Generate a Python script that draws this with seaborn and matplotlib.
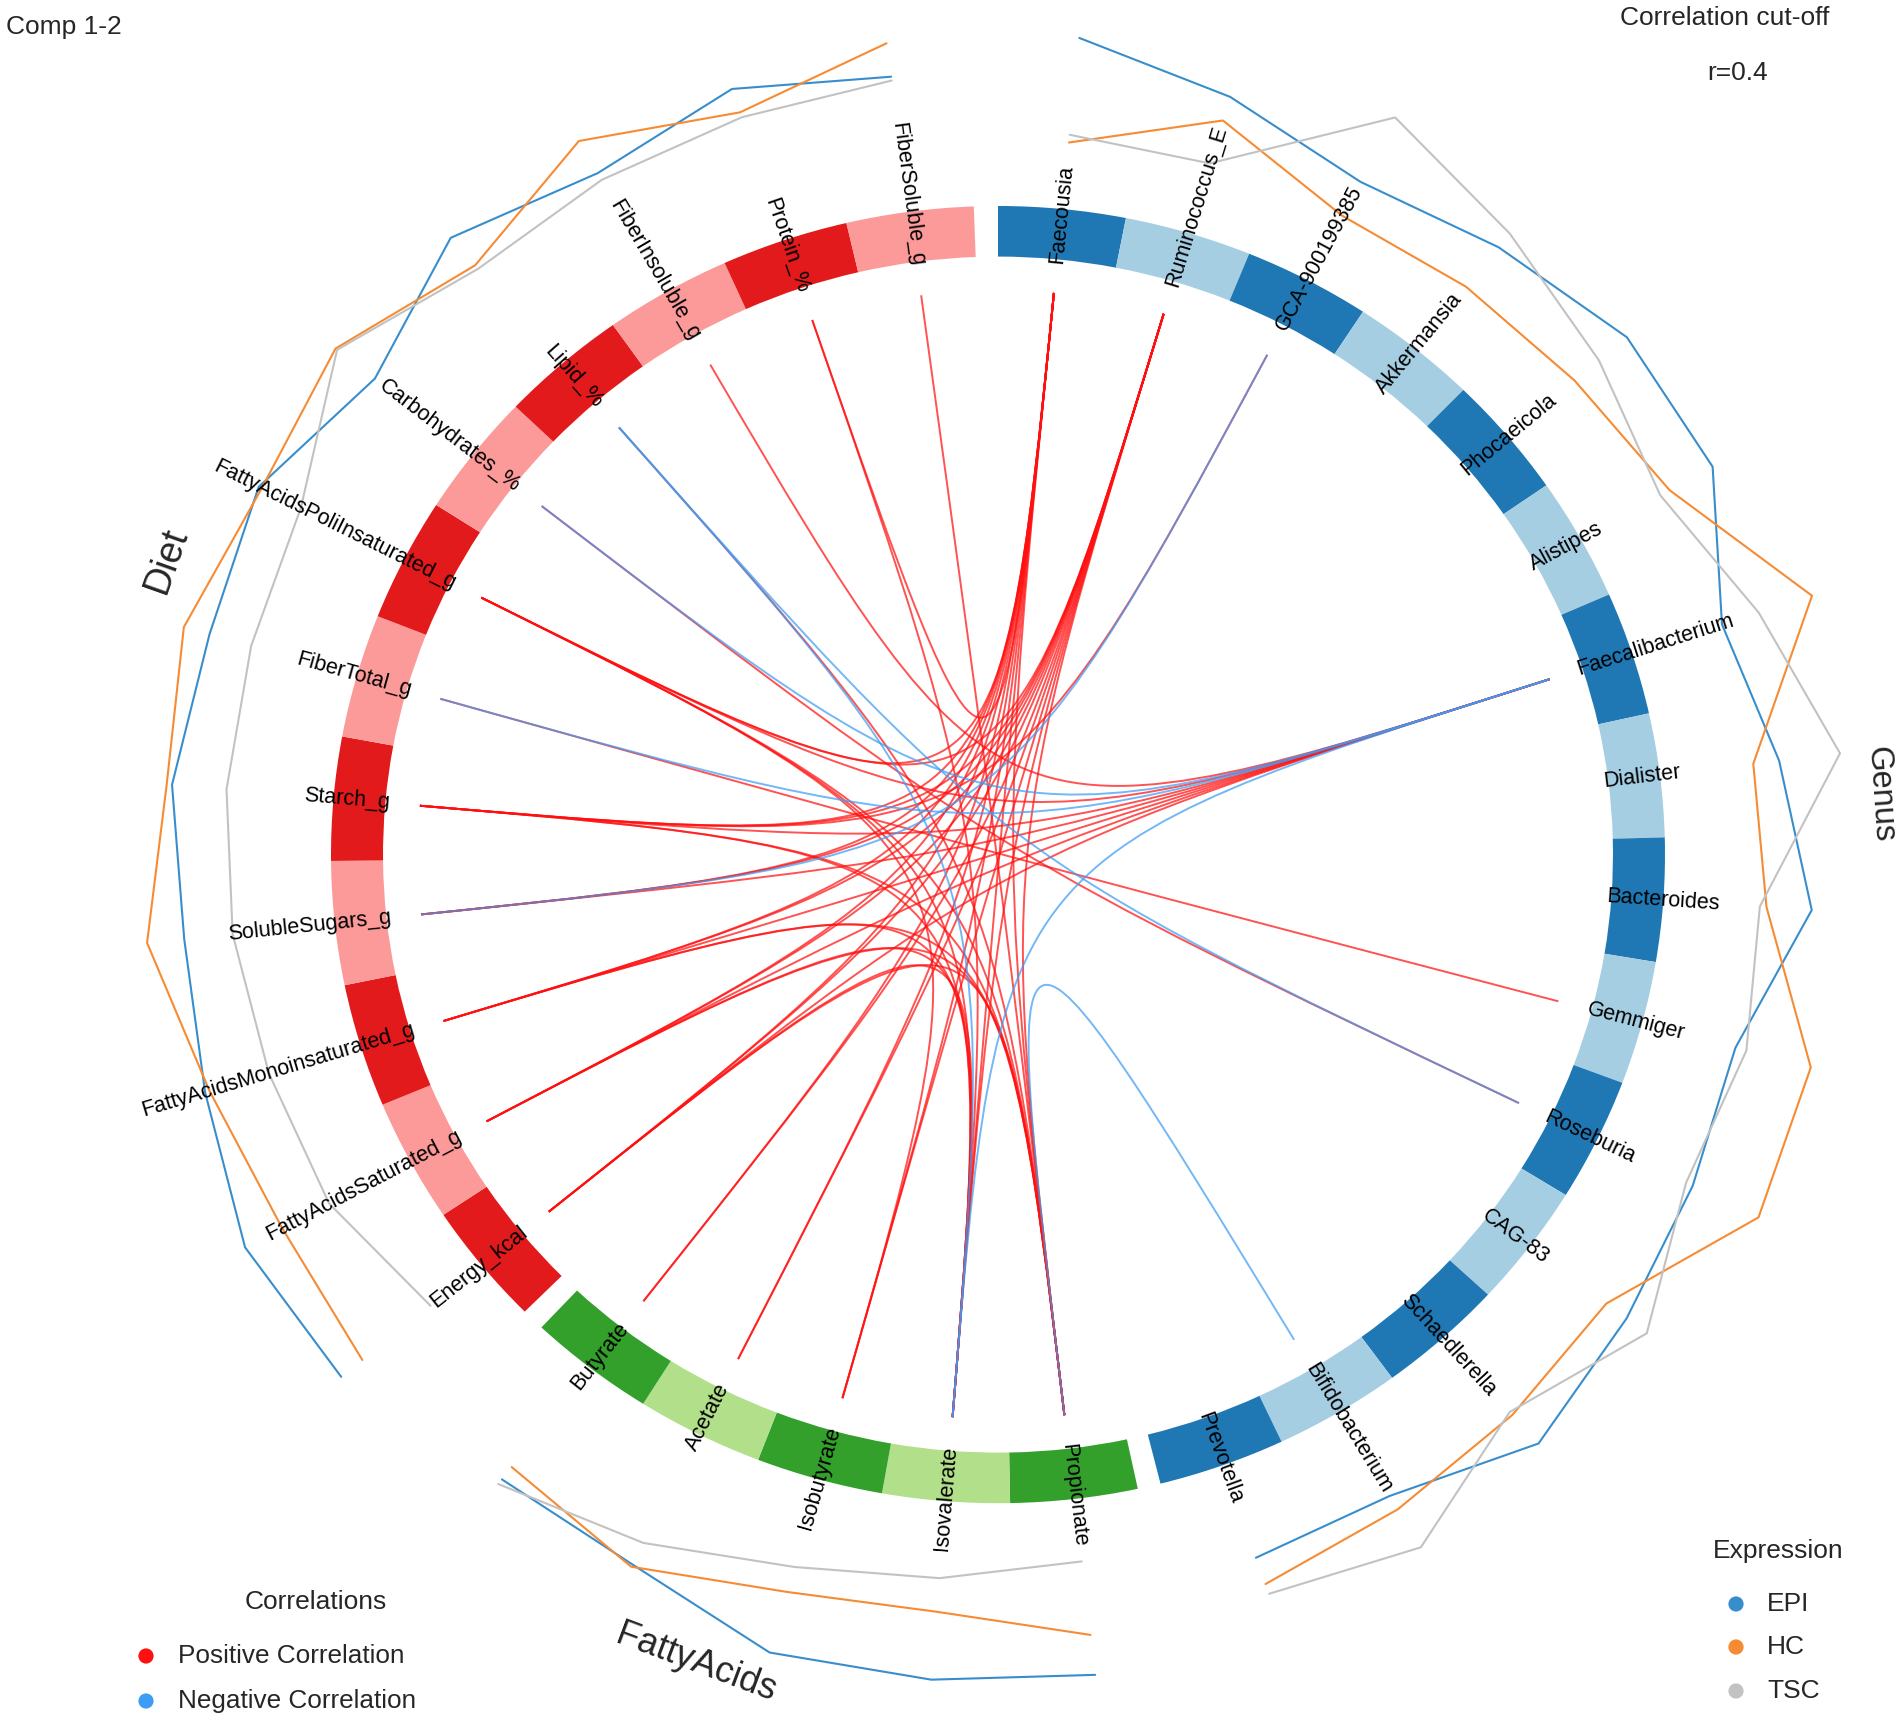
import numpy as np
import pandas as pd
import matplotlib
matplotlib.use('Agg')
import matplotlib.pyplot as plt
from matplotlib.patches import Wedge, PathPatch
from matplotlib.path import Path
import seaborn as sns

# ---------------- data ----------------
genus_vars = ['Faecousia', 'Ruminococcus_E', 'GCA-900199385', 'Akkermansia', 'Phocaeicola',
              'Alistipes', 'Faecalibacterium', 'Dialister', 'Bacteroides', 'Gemmiger',
              'Roseburia', 'CAG-83', 'Schaedlerella', 'Bifidobacterium', 'Prevotella']
fatty_vars = ['Propionate', 'Isovalerate', 'Isobutyrate', 'Acetate', 'Butyrate']
diet_vars = ['Energy_kcal', 'FattyAcidsSaturated_g', 'FattyAcidsMonoinsaturated_g', 'SolubleSugars_g',
             'Starch_g', 'FiberTotal_g', 'FattyAcidsPoliInsaturated_g', 'Carbohydrates_%', 'Lipid_%',
             'FiberInsoluble_g', 'Protein_%', 'FiberSoluble_g']

# expression level per group (drawn as radius outside the ring)
genus_epi = [1.265, 1.219, 1.171, 1.200, 1.235, 1.227, 1.142, 1.180, 1.223, 1.145, 1.160, 1.183, 1.217, 1.150, 1.151]
genus_hc = [1.103, 1.181, 1.112, 1.122, 1.132, 1.153, 1.284, 1.141, 1.155, 1.262, 1.270, 1.145, 1.158, 1.174, 1.194]
genus_tsc = [1.115, 1.112, 1.283, 1.227, 1.180, 1.137, 1.200, 1.272, 1.145, 1.162, 1.149, 1.221, 1.152, 1.242, 1.210]

fatty_epi = [1.273, 1.276, 1.277, 1.224, 1.217]
fatty_hc = [1.211, 1.171, 1.180, 1.228, 1.193]
fatty_tsc = [1.097, 1.119, 1.140, 1.187, 1.226]

diet_epi = [1.272, 1.281, 1.244, 1.227, 1.243, 1.230, 1.245, 1.188, 1.256, 1.210, 1.246, 1.210]
diet_hc = [1.231, 1.218, 1.237, 1.283, 1.251, 1.270, 1.240, 1.263, 1.200, 1.267, 1.208, 1.262]
diet_tsc = [1.099, 1.138, 1.144, 1.154, 1.161, 1.165, 1.174, 1.260, 1.193, 1.198, 1.200, 1.204]

pos_links = [
    ('Faecousia', 'Butyrate'), ('Faecousia', 'Acetate'), ('Faecousia', 'Isobutyrate'),
    ('Faecousia', 'Isovalerate'), ('Faecousia', 'Propionate'),
    ('Ruminococcus_E', 'Butyrate'), ('Ruminococcus_E', 'Acetate'), ('Ruminococcus_E', 'Isobutyrate'),
    ('Ruminococcus_E', 'Isovalerate'), ('Ruminococcus_E', 'Propionate'),
    ('Faecousia', 'Protein_%'), ('Faecousia', 'FattyAcidsPoliInsaturated_g'), ('Faecousia', 'Starch_g'),
    ('Faecousia', 'FattyAcidsMonoinsaturated_g'), ('Faecousia', 'FattyAcidsSaturated_g'),
    ('Faecousia', 'Energy_kcal'), ('Faecousia', 'SolubleSugars_g'),
    ('Ruminococcus_E', 'FattyAcidsPoliInsaturated_g'), ('Ruminococcus_E', 'Starch_g'),
    ('Ruminococcus_E', 'FattyAcidsMonoinsaturated_g'), ('Ruminococcus_E', 'FattyAcidsSaturated_g'),
    ('Ruminococcus_E', 'Energy_kcal'), ('Ruminococcus_E', 'SolubleSugars_g'),
    ('Faecalibacterium', 'FattyAcidsPoliInsaturated_g'), ('Faecalibacterium', 'Starch_g'),
    ('Faecalibacterium', 'SolubleSugars_g'), ('Faecalibacterium', 'FattyAcidsMonoinsaturated_g'),
    ('Faecalibacterium', 'FattyAcidsSaturated_g'), ('Faecalibacterium', 'Energy_kcal'),
    ('Faecalibacterium', 'FiberInsoluble_g'),
    ('Gemmiger', 'FiberTotal_g'), ('Roseburia', 'Carbohydrates_%'), ('GCA-900199385', 'Starch_g'),
    ('FiberSoluble_g', 'Propionate'), ('Protein_%', 'Isovalerate'), ('Lipid_%', 'Propionate'),
    ('FattyAcidsPoliInsaturated_g', 'Propionate'), ('FattyAcidsPoliInsaturated_g', 'Isovalerate'),
    ('FattyAcidsPoliInsaturated_g', 'Isobutyrate'),
    ('Starch_g', 'Isovalerate'), ('Starch_g', 'Propionate'),
    ('FattyAcidsMonoinsaturated_g', 'Propionate'), ('FattyAcidsMonoinsaturated_g', 'Isovalerate'),
    ('FattyAcidsSaturated_g', 'Propionate'), ('FattyAcidsSaturated_g', 'Isovalerate'),
    ('Energy_kcal', 'Propionate'), ('Energy_kcal', 'Isovalerate'),
]
neg_links = [
    ('Faecalibacterium', 'Carbohydrates_%'), ('Faecalibacterium', 'FiberTotal_g'),
    ('Faecalibacterium', 'Isovalerate'), ('GCA-900199385', 'SolubleSugars_g'),
    ('Roseburia', 'Lipid_%'), ('Bifidobacterium', 'Propionate'), ('Lipid_%', 'Isovalerate'),
]

# block title angles and sizes
block_title = {'Diet': (160, 27), 'Genus': (4, 23.5), 'FattyAcids': (-110, 26)}

# ---------------- layout ----------------
W, H = 1902, 1722
CX, CY, RX, RY = 998, 854.6, 667, 648.6
SEG, GAP = 11.06, 2.0
R_IN, R_LINK, R_TXT, R_BLOCK = 0.922, 0.87, 0.915, 1.326

blocks = [('Genus', genus_vars, ('#1F78B4', '#A6CEE3')),
          ('FattyAcids', fatty_vars, ('#33A02C', '#B2DF8A')),
          ('Diet', diet_vars, ('#E31A1C', '#FB9A99'))]


def px(x, y):
    return (x - CX) / RX, (CY - y) / RY


def pol(theta, r):
    t = np.radians(theta)
    return r * np.cos(t), r * np.sin(t)


def screen_angle(theta):
    t = np.radians(theta)
    return np.degrees(np.arctan2(RY * np.sin(t), RX * np.cos(t)))


sns.set_theme(style='white')
plt.rcParams['font.family'] = ['Liberation Sans', 'DejaVu Sans']

fig = plt.figure(figsize=(W / 100, H / 100), dpi=100)
ax = fig.add_axes([0, 0, 1, 1])
ax.set_xlim(px(0, 0)[0], px(W, 0)[0])
ax.set_ylim(px(0, H)[1], px(0, 0)[1])
ax.axis('off')

centers = {}
k = 0
for b, (bname, names, cols) in enumerate(blocks):
    for i, name in enumerate(names):
        a1 = 90 - GAP * b - SEG * (k + i)
        a0 = a1 - SEG
        c = (a0 + a1) / 2
        centers[name] = c
        ax.add_patch(Wedge((0, 0), 1.0, a0, a1, width=1.0 - R_IN,
                           facecolor=cols[i % 2], edgecolor='none', zorder=3))
        sa = screen_angle(c)
        tx, ty = pol(c, R_TXT)
        if -90 < c < 90 or c < -270:
            ax.text(tx, ty, name, rotation=sa, rotation_mode='anchor', ha='left', va='center',
                    fontsize=15.5, color='black', zorder=5)
        else:
            ax.text(tx, ty, name, rotation=sa + 180, rotation_mode='anchor', ha='right', va='center',
                    fontsize=15.5, color='black', zorder=5)
    ang, fs = block_title[bname]
    bx, by = pol(ang, R_BLOCK)
    rot = screen_angle(ang) - 90 if 0 < ang < 180 else screen_angle(ang) + 90
    ax.text(bx, by, bname, rotation=rot, ha='center', va='center', fontsize=fs, rotation_mode='anchor')
    k += len(names)

# expression lines
expr = {'Genus': (genus_epi, genus_hc, genus_tsc),
        'FattyAcids': (fatty_epi, fatty_hc, fatty_tsc),
        'Diet': (diet_epi, diet_hc, diet_tsc)}
groups = ['EPI', 'HC', 'TSC']
gcols = {'EPI': '#388ECC', 'HC': '#F68B33', 'TSC': '#C2C2C2'}
for bname, names, _ in blocks:
    rows = []
    for g, vals in zip(groups, expr[bname]):
        for j, (name, r) in enumerate(zip(names, vals)):
            x, y = pol(centers[name], r)
            rows.append({'x': x, 'y': y, 'group': g, 'order': j})
    df = pd.DataFrame(rows)
    sns.lineplot(data=df, x='x', y='y', hue='group', palette=gcols, sort=False, estimator=None,
                 units='group', legend=False, linewidth=1.5, ax=ax, zorder=2)


# correlation links
def draw_link(a, b, color):
    p0 = pol(centers[a], R_LINK)
    p3 = pol(centers[b], R_LINK)
    path = Path([p0, (0, 0), (0, 0), p3], [Path.MOVETO, Path.CURVE4, Path.CURVE4, Path.CURVE4])
    ax.add_patch(PathPatch(path, facecolor='none', edgecolor=color, lw=1.4, alpha=0.72, zorder=4))


for a, b in pos_links:
    draw_link(a, b, '#FF1010')
for a, b in neg_links:
    draw_link(a, b, '#3D9CF5')

# titles and legends
ax.text(*px(6, 27), 'Comp 1-2', ha='left', va='center', fontsize=19)
ax.text(*px(1725, 18), 'Correlation cut-off', ha='center', va='center', fontsize=19)
ax.text(*px(1738, 73), 'r=0.4', ha='center', va='center', fontsize=19)

ax.text(*px(316, 1602), 'Correlations', ha='center', va='center', fontsize=19)
leg = pd.DataFrame({'x': [px(146, 1656)[0], px(146, 1701)[0]],
                    'y': [px(146, 1656)[1], px(146, 1701)[1]],
                    'lab': ['Positive Correlation', 'Negative Correlation']})
sns.scatterplot(data=leg, x='x', y='y', hue='lab', palette=['#FF1010', '#3D9CF5'], s=120,
                edgecolor='none', legend=False, ax=ax, zorder=6)
ax.text(*px(178, 1656), 'Positive Correlation', ha='left', va='center', fontsize=18.8)
ax.text(*px(178, 1701), 'Negative Correlation', ha='left', va='center', fontsize=18.8)

ax.text(*px(1778, 1551), 'Expression', ha='center', va='center', fontsize=19)
ey = [1604, 1647, 1691]
leg2 = pd.DataFrame({'x': [px(1736, v)[0] for v in ey], 'y': [px(1736, v)[1] for v in ey], 'group': groups})
sns.scatterplot(data=leg2, x='x', y='y', hue='group', palette=gcols, s=120, edgecolor='none',
                legend=False, ax=ax, zorder=6)
for g, v in zip(groups, ey):
    ax.text(*px(1767, v), g, ha='left', va='center', fontsize=19)

fig.savefig('out.png', dpi=100, facecolor='white')
